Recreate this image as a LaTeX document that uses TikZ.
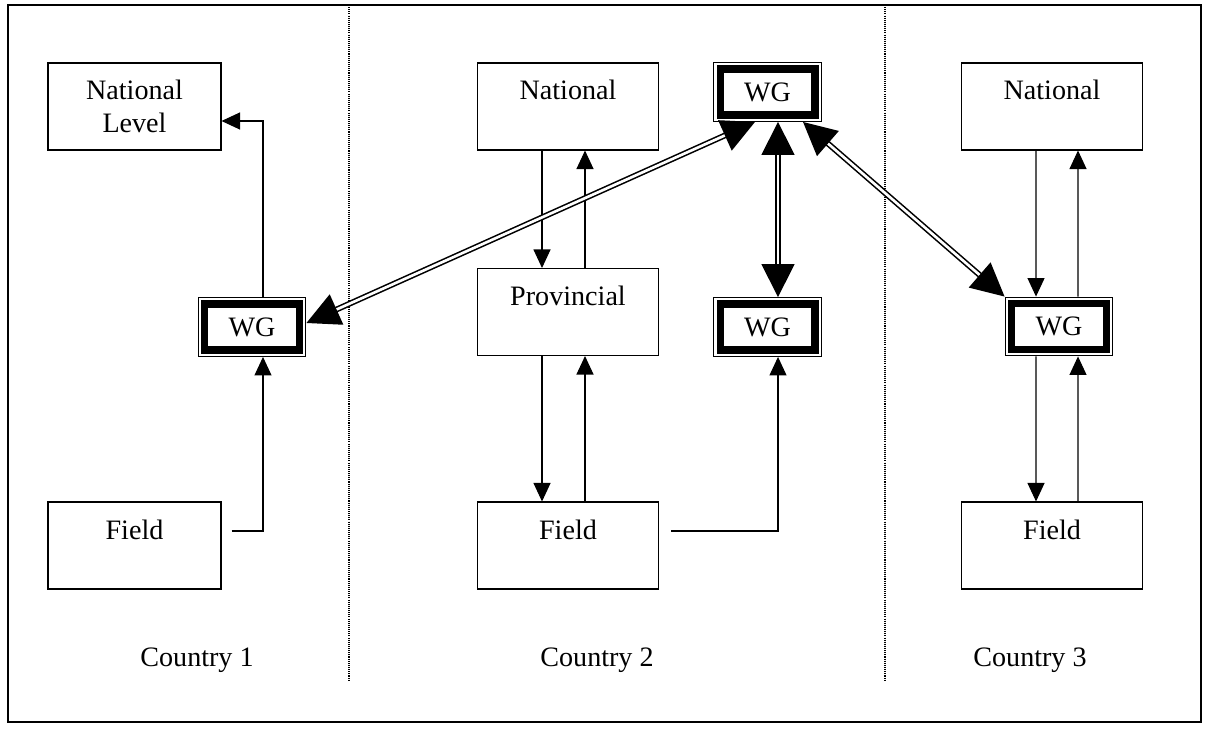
\documentclass[tikz,border=0pt]{standalone}
\usepackage{fontspec}
\setmainfont{Liberation Serif}
\usetikzlibrary{positioning}
\usetikzlibrary{arrows.meta}

\begin{document}
\begin{tikzpicture}[x=0.02cm,y=-0.02cm,font=\fontsize{16}{19}\selectfont,
  box/.style={draw,line width=0.6pt,fill=white,minimum width=3.62cm,minimum height=1.74cm,
    inner sep=0pt,text height=0.4cm,text depth=0.66cm},
  wg/.style={draw,fill=white,line width=4pt,minimum width=1.9cm,minimum height=0.92cm,
    inner sep=0pt,outer sep=3.95pt,
    preaction={draw,line width=7.9pt},preaction={draw=white,line width=6.4pt}},
  arr/.style={line width=0.6pt,-{Triangle[length=0.37cm,width=0.34cm]}},
  dbl/.style={double,double distance=1.5pt,line width=0.9pt,
    {Triangle[length=0.66cm,width=0.66cm]}-{Triangle[length=0.66cm,width=0.66cm]}},
  divider/.style={line width=0.6pt,dash pattern=on 0.6pt off 0.6pt}]

\useasboundingbox (0,0) rectangle (1209,733);
\draw[line width=0.8pt] (8,5) rectangle (1201,722);
\draw[divider] (349,5) -- (349,680);
\draw[divider] (885,5) -- (885,680);

% country 1
\node[box,minimum width=3.46cm,align=center,text height=1.2cm,text depth=0.14cm] (nat1) at (134.5,106.5) {National\\Level};
\node[wg] (wg1) at (252,327) {WG};
\node[box,minimum width=3.46cm] (fld1) at (134.5,545.5) {Field};
\node (c1) at (197,660) {Country 1};

% country 2
\node[box] (nat2) at (568,106.5) {National};
\node[box] (prov2) at (568,312) {Provincial};
\node[box] (fld2) at (568,545.5) {Field};
\node[wg] (wgtop) at (767.5,92) {WG};
\node[wg] (wg2) at (767.5,327) {WG};
\node (c2) at (597,660) {Country 2};

% country 3
\node[box] (nat3) at (1052,106.5) {National};
\node[wg] (wg3) at (1059,326.5) {WG};
\node[box] (fld3) at (1052,545.5) {Field};
\node (c3) at (1030,660) {Country 3};

\draw[arr] ([xshift=0.22cm]wg1.north) |- ([yshift=-0.29cm]nat1.east);
\draw[arr] ([xshift=0.2cm,yshift=0.29cm]fld1.east) -| ([xshift=0.22cm]wg1.south);

\draw[arr] ([xshift=-0.52cm]nat2.south) -- ([xshift=-0.52cm]prov2.north);
\draw[arr] ([xshift=0.34cm]prov2.north) -- ([xshift=0.34cm]nat2.south);
\draw[arr] ([xshift=-0.52cm]prov2.south) -- ([xshift=-0.52cm]fld2.north);
\draw[arr] ([xshift=0.34cm]fld2.north) -- ([xshift=0.34cm]prov2.south);
\draw[arr] ([xshift=0.24cm,yshift=0.29cm]fld2.east) -| ([xshift=0.21cm]wg2.south);

\draw[arr] ([xshift=-0.32cm]nat3.south) -- ([xshift=-0.46cm]wg3.north);
\draw[arr] ([xshift=0.38cm]wg3.north) -- ([xshift=0.52cm]nat3.south);
\draw[arr] ([xshift=-0.46cm]wg3.south) -- ([xshift=-0.32cm]fld3.north);
\draw[arr] ([xshift=0.52cm]fld3.north) -- ([xshift=0.38cm]wg3.south);

\draw[dbl] ([xshift=0.21cm]wgtop.south) -- ([xshift=0.21cm]wg2.north);
\draw[dbl] ([xshift=-0.25cm]wgtop.south) -- ([yshift=0.08cm]wg1.east);
\draw[dbl] ([xshift=0.71cm]wgtop.south) -- (wg3.north west);

\end{tikzpicture}
\end{document}
